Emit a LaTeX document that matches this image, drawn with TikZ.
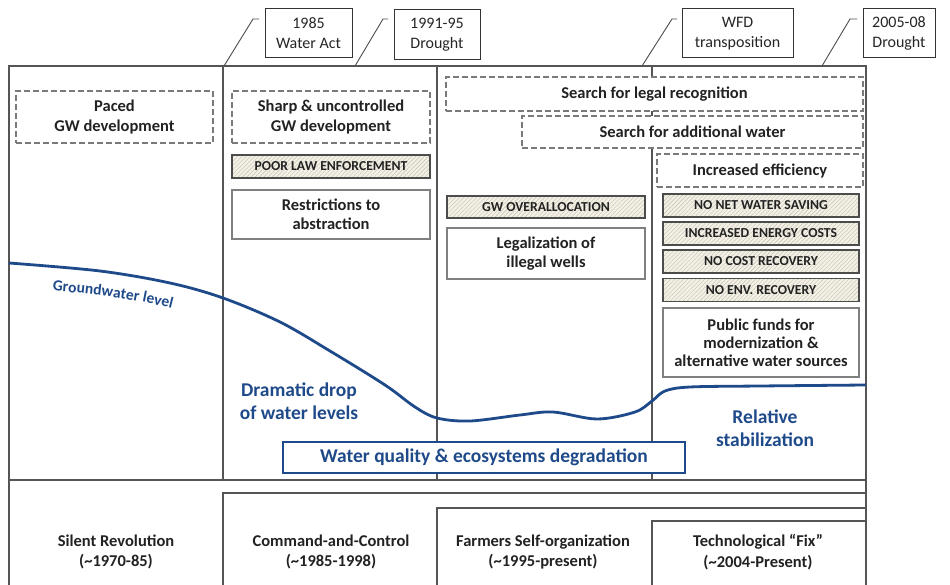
\documentclass[tikz,border=0pt]{standalone}
\usepackage{fontspec}
\setmainfont{Carlito}
\usetikzlibrary{patterns.meta,decorations.text}
\definecolor{frame}{HTML}{555555}
\definecolor{dashgray}{HTML}{7A7A7A}
\definecolor{ink}{HTML}{222222}
\definecolor{gwblue}{HTML}{1F4A8A}
\definecolor{hatchbg}{HTML}{F3F0E6}
\definecolor{hatchln}{HTML}{C4BFAF}
\begin{document}
\begin{tikzpicture}[x=1pt,y=-1pt,
  frameline/.style={draw=frame, line width=1.2pt},
  callout/.style={draw=black!80, line width=1pt, fill=white, align=center,
    text=black!85, font=\fontsize{16}{20}\selectfont, inner sep=0pt},
  leader/.style={draw=black!70, line width=0.9pt},
  boxtext/.style={align=center, text=ink, inner sep=0pt,
    font=\bfseries\fontsize{16.5}{19.5}\selectfont},
  dashbox/.style={boxtext, draw=dashgray, line width=1.5pt,
    dash pattern=on 6pt off 3pt, fill=white},
  solidbox/.style={boxtext, draw=black!50, line width=1.8pt, fill=white},
  hatchbox/.style={boxtext, font=\bfseries\fontsize{13.7}{16}\selectfont,
    draw=black!70, line width=1.4pt, preaction={fill=hatchbg},
    pattern={Lines[angle=45,distance=3pt,line width=0.4pt]}, pattern color=hatchln},
  bluetext/.style={align=center, text=gwblue, inner sep=0pt,
    font=\bfseries\fontsize{19.5}{23}\selectfont},
  phase/.style={align=center, text=ink, inner sep=0pt,
    font=\bfseries\fontsize{16.5}{20.5}\selectfont},
  gwcurve/.style={draw=gwblue, line width=2.8pt}
]
\useasboundingbox (0,0) rectangle (950,585);
\clip (0,0) rectangle (950,585);

% ---- frame of the timeline ----
\draw[frameline] (9,586) -- (9,66) -- (866,66) -- (866,586);
\draw[frameline] (9,480) -- (866,480);
\draw[frameline] (223,66) -- (223,480);
\draw[frameline] (437,66) -- (437,480);
\draw[frameline] (652,66) -- (652,480);
% stepped phase boxes
\draw[frameline] (223,586) -- (223,493) -- (866,493);
\draw[frameline] (437,586) -- (437,508) -- (866,508);
\draw[frameline] (652,586) -- (652,521) -- (866,521);

% ---- event callouts ----
\node[callout, minimum width=87pt, minimum height=49pt] (ev1) at (308.5,33.5) {1985\\Water Act};
\node[callout, minimum width=86pt, minimum height=50pt] (ev2) at (437,35) {1991-95\\Drought};
\node[callout, minimum width=111pt, minimum height=49pt] (ev3) at (737.5,33.5) {WFD\\transposition};
\node[callout, minimum width=72pt, minimum height=49pt] (ev4) at (899,33.5) {2005-08\\Drought};

\coordinate (l1a) at (224,66);  \coordinate (l1b) at (253,19);  \coordinate (l1c) at (259,19);
\coordinate (l2a) at (355,66);  \coordinate (l2b) at (383,19);  \coordinate (l2c) at (388,19);
\coordinate (l3a) at (642,66);  \coordinate (l3b) at (672,19);  \coordinate (l3c) at (677,19);
\coordinate (l4a) at (822,66);  \coordinate (l4b) at (850,19);  \coordinate (l4c) at (857,19);
\draw[leader] (l1a) -- (l1b) -- (l1c);
\draw[leader] (l2a) -- (l2b) -- (l2c);
\draw[leader] (l3a) -- (l3b) -- (l3c);
\draw[leader] (l4a) -- (l4b) -- (l4c);

% ---- driving forces (dashed) ----
\node[dashbox, minimum width=197pt, minimum height=52pt] (paced) at (114.5,117) {Paced\\GW development};
\node[dashbox, minimum width=198pt, minimum height=52pt] (sharp) at (331,117) {Sharp \& uncontrolled\\GW development};
\node[dashbox, minimum width=417pt, minimum height=34pt] (legal) at (654.5,94) {Search for legal recognition};
\node[dashbox, minimum width=341pt, minimum height=32pt] (addw) at (692.5,132) {Search for additional water};
\node[dashbox, minimum width=206pt, minimum height=33pt] (eff) at (760,170.5) {Increased efficiency};

% ---- shortcomings (hatched) ----
\node[hatchbox, minimum width=198pt, minimum height=23pt] (poor) at (331,166.5) {POOR LAW ENFORCEMENT};
\node[hatchbox, minimum width=198pt, minimum height=22pt] (overa) at (546,207) {GW OVERALLOCATION};
\node[hatchbox, minimum width=196pt, minimum height=23pt] (nonet) at (761,205.5) {NO NET WATER SAVING};
\node[hatchbox, minimum width=196pt, minimum height=23pt] (energy) at (761,233.5) {INCREASED ENERGY COSTS};
\node[hatchbox, minimum width=196pt, minimum height=23pt] (costr) at (761,261.5) {NO COST RECOVERY};
\node[hatchbox, minimum width=196pt, minimum height=23pt] (envr) at (761,290) {NO ENV. RECOVERY};

% ---- policy responses (solid) ----
\node[solidbox, minimum width=198pt, minimum height=49pt] (restr) at (331,214.5) {Restrictions to\\abstraction};
\node[solidbox, minimum width=198pt, minimum height=51pt] (legz) at (546,253.5) {Legalization of\\illegal wells};
\node[solidbox, minimum width=196pt, minimum height=69pt, font=\bfseries\fontsize{16.5}{18}\selectfont] (funds) at (761,342.5) {Public funds for\\modernization \&\\alternative water sources};

% ---- groundwater level ----
\draw[gwcurve] plot[smooth, tension=0.55] coordinates {
  (9,263) (100,271) (170,283) (223,298) (280,322) (330,351) (385,385)
  (415,407) (437,418) (470,421) (520,415) (553,412) (597,419) (635,412)
  (652,401) (665,391) (690,387) (760,386) (866,385)};
\path[decorate, decoration={text along path, text align=center,
  text={|\bfseries\fontsize{15.5}{16}\selectfont\color{gwblue}|Groundwater level}}]
  (40,290) .. controls (95,294) and (140,299) .. (184,312);
\node[bluetext] (drop) at (299,401) {Dramatic drop\\of water levels};
\node[bluetext] (stab) at (765,428) {Relative\\stabilization};
\node[bluetext, draw=gwblue, line width=2.6pt, fill=white, minimum width=402pt, minimum height=31pt] (wq) at (484,457.5) {Water quality \& ecosystems degradation};

% ---- governance phases ----
\node[phase] (ph1) at (116,552) {Silent Revolution\\(\textasciitilde1970-85)};
\node[phase] (ph2) at (331,552) {Command-and-Control\\(\textasciitilde1985-1998)};
\node[phase] (ph3) at (543,552) {Farmers Self-organization\\(\textasciitilde1995-present)};
\node[phase] (ph4) at (758,552) {Technological “Fix”\\(\textasciitilde2004-Present)};
\end{tikzpicture}
\end{document}
